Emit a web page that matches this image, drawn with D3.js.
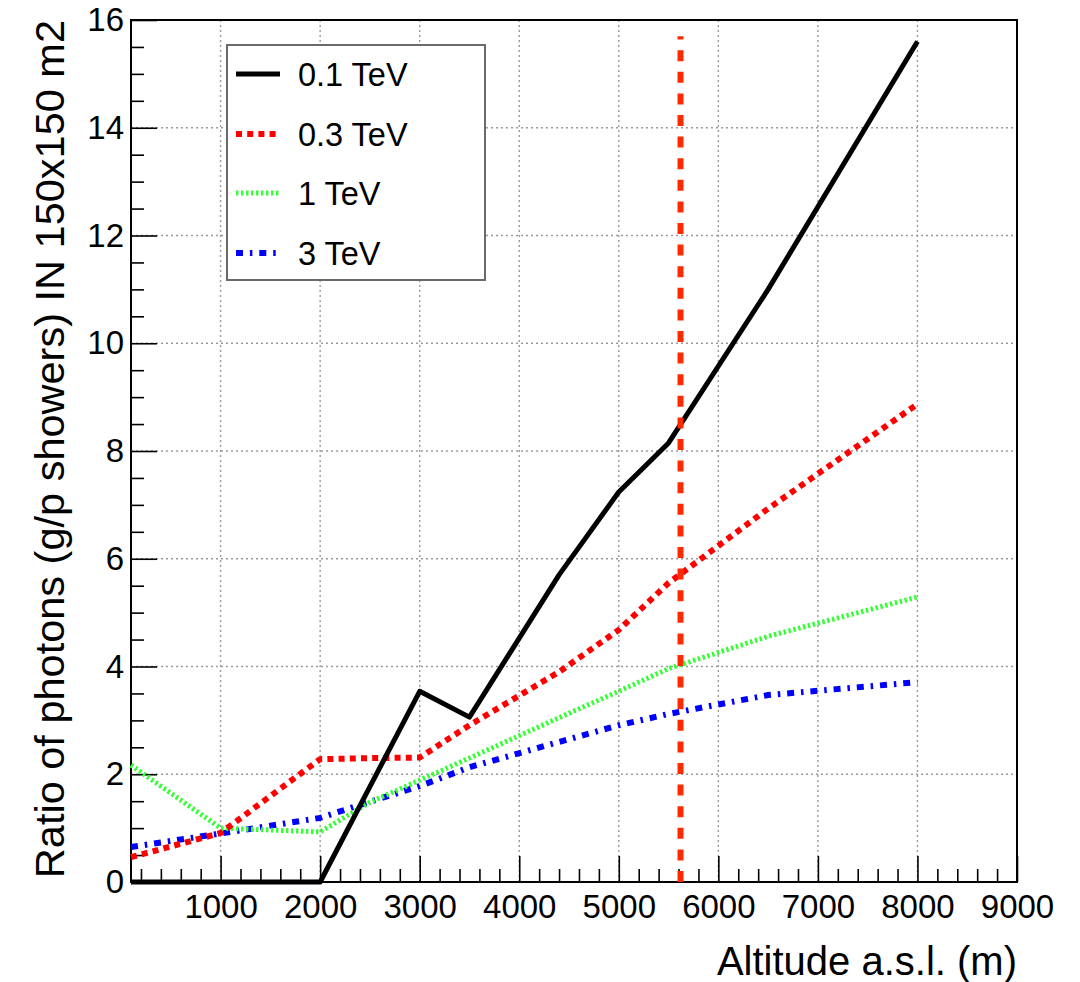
<!DOCTYPE html>
<html>
<head>
<meta charset="utf-8">
<script src="https://cdn.jsdelivr.net/npm/d3@7"></script>
<style>
  html, body { margin: 0; padding: 0; background: #fff; }
  svg { display: block; font-family: "Liberation Sans", Arial, Helvetica, sans-serif; }
</style>
</head>
<body>
<svg id="chart" width="1080" height="982"></svg>
<script>
// Simulated altitudes (m a.s.l.) shared by all curves
const altitudes = [100, 1000, 2000, 2500, 3000, 3500, 4400, 5000, 5500, 6500, 8000];

// gamma/proton photon ratio in a 150x150 m2 area, per primary energy
const ratio01TeV = [0, 0, 0, 1.77, 3.54, 3.06, 5.70, 7.24, 8.15, 11.0, 15.6];
const ratio03TeV = [0.46, 0.91, 2.28, 2.30, 2.31, 2.91, 3.90, 4.68, 5.55, 6.93, 8.87];
const ratio1TeV  = [2.17, 1.00, 0.93, 1.48, 1.89, 2.30, 3.05, 3.54, 3.96, 4.56, 5.29];
const ratio3TeV  = [0.65, 0.90, 1.19, 1.49, 1.78, 2.13, 2.60, 2.91, 3.12, 3.47, 3.71];

const seriesLabels = ["0.1 TeV", "0.3 TeV", "1 TeV", "3 TeV"];

// Reference altitude marked by the vertical dashed line, and its extent in y
const markerAltitude = 5620;
const markerExtent = [0, 15.7];

// Axis ranges and ticks
const xDomain = [100, 9000];
const yDomain = [0, 16];
const xMajorTicks = [1000, 2000, 3000, 4000, 5000, 6000, 7000, 8000, 9000];
const yMajorTicks = [0, 2, 4, 6, 8, 10, 12, 14, 16];

const xTitle = "Altitude a.s.l. (m)";
const yTitle = "Ratio of photons (g/p showers) IN 150x150 m2";

// ---- layout ----
const frame = { left: 131, top: 20, right: 1017, bottom: 882 };
const svg = d3.select("#chart");

const x = d3.scaleLinear().domain(xDomain).range([frame.left, frame.right]);
const y = d3.scaleLinear().domain(yDomain).range([frame.bottom, frame.top]);

const xMinorTicks = d3.range(200, 9000, 200).filter(v => v % 1000 !== 0);
const yMinorTicks = d3.range(0.5, 16, 0.5).filter(v => v % 2 !== 0);

// grid
const grid = svg.append("g").attr("stroke", "#9a9a9a").attr("stroke-width", 1.4)
  .attr("stroke-dasharray", "2,3").attr("fill", "none");
grid.selectAll("line.vx").data(xMajorTicks.filter(v => v < xDomain[1]))
  .join("line").attr("x1", d => x(d)).attr("x2", d => x(d))
  .attr("y1", frame.bottom).attr("y2", frame.top);
grid.selectAll("line.hy").data(yMajorTicks.filter(v => v > yDomain[0] && v < yDomain[1]))
  .join("line").attr("y1", d => y(d)).attr("y2", d => y(d))
  .attr("x1", frame.left).attr("x2", frame.right);

// axes (ticks point inward)
const axisFont = 33;
svg.append("g").attr("transform", `translate(0,${frame.bottom})`)
  .call(d3.axisBottom(x).tickValues(xMajorTicks).tickSize(-26).tickPadding(13).tickFormat(d3.format("d")));
svg.append("g").attr("transform", `translate(0,${frame.bottom})`)
  .call(d3.axisBottom(x).tickValues(xMinorTicks).tickSize(-13).tickFormat(""));
svg.append("g").attr("transform", `translate(${frame.left},0)`)
  .call(d3.axisLeft(y).tickValues(yMajorTicks).tickSize(-26).tickPadding(7).tickFormat(d3.format("d")));
svg.append("g").attr("transform", `translate(${frame.left},0)`)
  .call(d3.axisLeft(y).tickValues(yMinorTicks).tickSize(-13).tickFormat(""));

svg.selectAll(".domain").remove();
svg.selectAll(".tick line").attr("stroke", "#000").attr("stroke-width", 1.6);
svg.selectAll(".tick text").attr("font-size", axisFont).attr("fill", "#000")
  .attr("font-family", "Liberation Sans, Arial, sans-serif");

// frame
svg.append("rect")
  .attr("x", frame.left).attr("y", frame.top)
  .attr("width", frame.right - frame.left).attr("height", frame.bottom - frame.top)
  .attr("fill", "none").attr("stroke", "#000").attr("stroke-width", 2);

// curves
const styles = [
  { color: "#000000", width: 5, dash: null },
  { color: "#ff0000", width: 6, dash: "6,5.2" },
  { color: "#33ff33", width: 5, dash: "2.4,2.6" },
  { color: "#0000ff", width: 6, dash: "7,6.9,2.5,6.9" }
];
const seriesValues = [ratio01TeV, ratio03TeV, ratio1TeV, ratio3TeV];

const line = d3.line().x(d => x(d[0])).y(d => y(d[1]));

// draw back-to-front so the solid curve sits on top
[3, 2, 1, 0].forEach(i => {
  const pts = altitudes.map((a, k) => [a, seriesValues[i][k]]);
  svg.append("path")
    .datum(pts)
    .attr("d", line)
    .attr("fill", "none")
    .attr("stroke", styles[i].color)
    .attr("stroke-width", styles[i].width)
    .attr("stroke-dasharray", styles[i].dash)
    .attr("stroke-linejoin", "round");
});

// vertical marker
svg.append("line")
  .attr("x1", x(markerAltitude)).attr("x2", x(markerAltitude))
  .attr("y1", y(markerExtent[0])).attr("y2", y(markerExtent[1]))
  .attr("stroke", "#ff2a00").attr("stroke-width", 6)
  .attr("stroke-dasharray", "11,10.6");

// legend
const legend = svg.append("g");
legend.append("rect")
  .attr("x", 227).attr("y", 45).attr("width", 258).attr("height", 235)
  .attr("fill", "#fff").attr("stroke", "#6a6a6a").attr("stroke-width", 2);
const rowY = [74, 134, 193, 253];
seriesLabels.forEach((lab, i) => {
  legend.append("line")
    .attr("x1", 236).attr("x2", 280).attr("y1", rowY[i]).attr("y2", rowY[i])
    .attr("stroke", styles[i].color).attr("stroke-width", styles[i].width)
    .attr("stroke-dasharray", styles[i].dash);
  legend.append("text")
    .attr("x", 298).attr("y", rowY[i]).attr("dy", "0.36em")
    .attr("font-size", 32.5).attr("fill", "#000")
    .text(lab);
});

// axis titles
svg.append("text")
  .attr("x", frame.right).attr("y", 975)
  .attr("text-anchor", "end").attr("font-size", 40).attr("fill", "#000")
  .text(xTitle);
svg.append("text")
  .attr("transform", `translate(64,${frame.top}) rotate(-90)`)
  .attr("text-anchor", "end").attr("font-size", 41.5).attr("fill", "#000")
  .text(yTitle);
</script>
</body>
</html>
